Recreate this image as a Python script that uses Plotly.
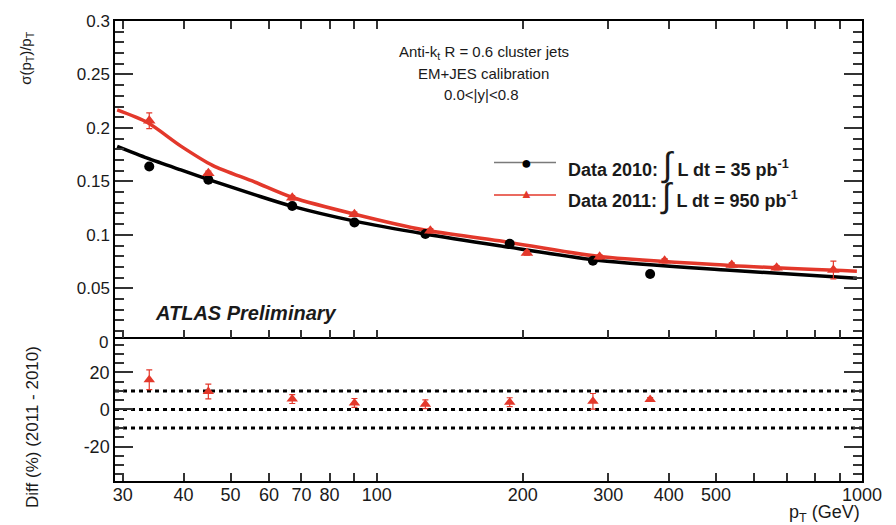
import math
import plotly.graph_objects as go

# ---------------- data ----------------
pt_2010 = [34, 45, 67, 90, 126, 188, 279, 366]
res_2010 = [0.164, 0.1515, 0.127, 0.1116, 0.1008, 0.0916, 0.0757, 0.0634]

pt_2011 = [34, 45, 67, 90, 129, 204, 288, 392, 539, 667, 873]
res_2011 = [0.2067, 0.1576, 0.1346, 0.1192, 0.1039, 0.0831, 0.0794, 0.0757, 0.0717, 0.0693, 0.0671]
err_2011 = [0.0073, 0.002, 0.002, 0.002, 0.002, 0.002, 0.002, 0.002, 0.002, 0.002, 0.0083]

fit_pt = [29.2, 33.7, 39.5, 45.9, 56, 67.1, 90.1, 125.6, 179, 288, 534, 976]
fit_2010 = [0.1827, 0.1717, 0.1607, 0.1505, 0.1376, 0.1266, 0.1128, 0.1008, 0.0898, 0.0760, 0.0668, 0.0594]
fit_2011 = [0.2168, 0.2050, 0.1830, 0.1650, 0.1495, 0.1349, 0.1193, 0.1045, 0.0944, 0.0797, 0.0714, 0.0659]

diff_pt = [34, 45, 67, 90, 126, 188, 279, 366]
diff_val = [16.0, 9.7, 5.6, 3.5, 2.8, 3.9, 4.4, 5.4]
diff_err = [5.3, 4.0, 2.4, 2.4, 2.4, 2.4, 4.2, 1.0]

ref_levels = [-10, 0, 10]

x_major = [30, 40, 50, 60, 70, 80, 100, 200, 300, 400, 500, 1000]
x_minor = [90, 600, 700, 800, 900]
y_top_ticks = [0.05, 0.1, 0.15, 0.2, 0.25, 0.3]
y_bot_ticks = [-20, 0, 20]

# ---------------- geometry ----------------
W, H = 896, 525
L, R, T, B = 115, 862, 13, 481
SPLIT = 335


def px(x):
    return (x - L) / (R - L)


def py(y):
    return (B - y) / (B - T)


RED = "#e3382b"
FONT = "Liberation Sans, Arial, Helvetica, sans-serif"
TXT = "#1a1a1a"

fig = go.Figure()

# fit curves
fig.add_trace(go.Scatter(x=fit_pt, y=fit_2010, mode="lines",
                         line=dict(color="black", width=3.5, shape="spline", smoothing=0.8),
                         xaxis="x", yaxis="y", showlegend=False, hoverinfo="skip"))
fig.add_trace(go.Scatter(x=fit_pt, y=fit_2011, mode="lines",
                         line=dict(color=RED, width=3.5, shape="spline", smoothing=0.8),
                         xaxis="x", yaxis="y", showlegend=False, hoverinfo="skip"))
# data points
fig.add_trace(go.Scatter(x=pt_2010, y=res_2010, mode="markers",
                         marker=dict(color="black", size=10, symbol="circle"),
                         xaxis="x", yaxis="y", showlegend=False))
fig.add_trace(go.Scatter(x=pt_2011, y=res_2011, mode="markers",
                         marker=dict(color=RED, size=11, symbol="triangle-up"),
                         error_y=dict(type="data", array=err_2011, color=RED, thickness=1.2, width=3),
                         xaxis="x", yaxis="y", showlegend=False))
# diff panel
fig.add_trace(go.Scatter(x=diff_pt, y=diff_val, mode="markers",
                         marker=dict(color=RED, size=10, symbol="triangle-up"),
                         error_y=dict(type="data", array=diff_err, color=RED, thickness=1.2, width=3),
                         xaxis="x2", yaxis="y2", showlegend=False))

shapes = []
for lv in ref_levels:
    shapes.append(dict(type="line", xref="x2 domain", yref="y2", x0=0, x1=1, y0=lv, y1=lv,
                       line=dict(color="black", width=3, dash="4px,4px"), layer="below"))

# legend rows (drawn manually)
shapes.append(dict(type="line", xref="paper", yref="paper", x0=px(494), x1=px(556), y0=py(157), y1=py(157),
                   line=dict(color="#7a7a7a", width=1.5)))
shapes.append(dict(type="line", xref="paper", yref="paper", x0=px(494), x1=px(556), y0=py(190), y1=py(190),
                   line=dict(color=RED, width=1.5)))

ann = []


def add_text(text, x, y, size, xanchor="center", yanchor="middle", angle=0, color=TXT):
    ann.append(dict(text=text, x=px(x), y=py(y), xref="paper", yref="paper", showarrow=False,
                    xanchor=xanchor, yanchor=yanchor, textangle=angle,
                    font=dict(family=FONT, size=size, color=color)))


add_text("●", 526, 157, 18, color="black")
add_text("▲", 526, 189, 13, color=RED)
add_text("<b>Data 2010: </b><span style='font-size:34px'>∫</span><b> L dt = 35 pb<sup>-1</sup></b>",
         566, 159, 18, xanchor="left")
add_text("<b>Data 2011: </b><span style='font-size:34px'>∫</span><b> L dt = 950 pb<sup>-1</sup></b>",
         566, 191, 18, xanchor="left")

add_text("Anti-k<sub>t</sub> R = 0.6 cluster jets", 484, 45, 15)
add_text("EM+JES calibration", 483, 66, 15)
add_text("0.0&lt;|y|&lt;0.8", 481, 88, 15)
add_text("<b><i>ATLAS Preliminary</i></b>", 153, 310, 20, xanchor="left")

add_text("σ(p<sub>T</sub>)/p<sub>T</sub>", 27, 21, 15, yanchor="top", angle=-90)
add_text("Diff (%) (2011 - 2010)", 33, 426, 17, angle=-90)
add_text("p<sub>T</sub> (GeV)", 862, 514, 18, xanchor="right")
add_text("0", 110, 340, 17, xanchor="right")

axis_common = dict(showline=True, linecolor="black", linewidth=1.5, ticks="inside",
                   tickcolor="#333", tickwidth=1.5, showgrid=False, zeroline=False)

xr = [math.log10(28.9), 3]

fig.update_layout(
    width=W, height=H,
    margin=dict(l=L, r=W - R, t=T, b=H - B),
    paper_bgcolor="white", plot_bgcolor="white",
    font=dict(family=FONT, color=TXT),
    xaxis=dict(type="log", range=xr, domain=[0, 1], anchor="y", mirror="ticks",
               tickmode="array", tickvals=x_major, showticklabels=False, ticklen=8,
               minor=dict(tickmode="array", tickvals=x_minor, ticklen=8, ticks="inside",
                          tickcolor="#333", tickwidth=1.5),
               **axis_common),
    yaxis=dict(domain=[py(SPLIT), 1], range=[0.004, 0.3], anchor="x", mirror="ticks",
               tickmode="array", tickvals=y_top_ticks, ticktext=[f"{v:g}" for v in y_top_ticks],
               ticklen=18, tickfont=dict(size=17, color=TXT),
               minor=dict(dtick=0.01, tick0=0, ticklen=9, ticks="inside", tickcolor="#333", tickwidth=1.5),
               **axis_common),
    xaxis2=dict(type="log", range=xr, domain=[0, 1], anchor="y2", mirror=False,
                tickmode="array", tickvals=x_major, ticktext=[str(v) for v in x_major],
                ticklen=8, tickfont=dict(size=18, color=TXT), ticklabelstandoff=-3,
                minor=dict(tickmode="array", tickvals=x_minor, ticklen=8, ticks="inside",
                           tickcolor="#333", tickwidth=1.5),
                **axis_common),
    yaxis2=dict(domain=[0, py(SPLIT)], range=[-38.6, 38.8], anchor="x2", mirror="ticks",
                tickmode="array", tickvals=y_bot_ticks, ticktext=[str(v) for v in y_bot_ticks],
                ticklen=18, tickfont=dict(size=18, color=TXT),
                minor=dict(dtick=5, tick0=0, ticklen=9, ticks="inside", tickcolor="#333", tickwidth=1.5),
                **axis_common),
    shapes=shapes,
    annotations=ann,
    showlegend=False,
)

fig.write_html("out.html")
